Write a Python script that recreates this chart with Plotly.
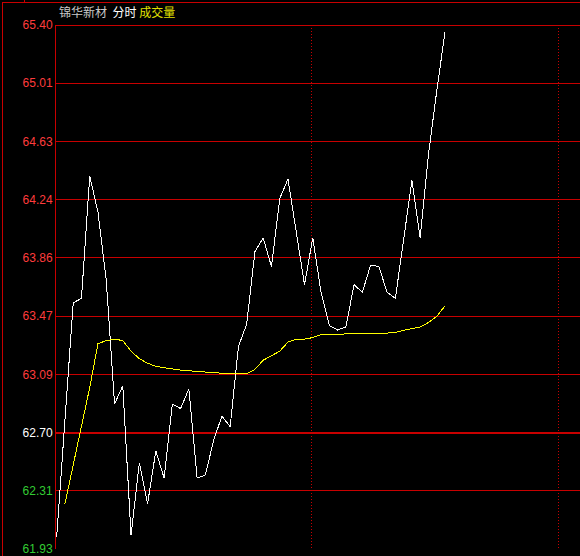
import numpy as np
import plotly.graph_objects as go

# ---- data ----
minute_idx = list(range(48))
price = [62.01, 62.79, 63.56, 63.59, 64.40, 64.16, 63.71, 62.89, 63.01, 62.02,
         62.50, 62.23, 62.58, 62.40, 62.89, 62.86, 62.99, 62.40, 62.42, 62.65,
         62.81, 62.74, 63.27, 63.42, 63.90, 63.99, 63.80, 64.25, 64.38, 64.03,
         63.68, 63.99, 63.63, 63.41, 63.38, 63.40, 63.68, 63.63, 63.81, 63.80,
         63.63, 63.59, 63.98, 64.37, 63.99, 64.54, 64.96, 65.35]
avg_idx = list(range(1, 48))
avg_price = [62.23, 62.49, 62.73, 63.00, 63.29, 63.31, 63.32, 63.31, 63.24,
             63.19, 63.16, 63.14, 63.13, 63.12, 63.115, 63.11, 63.105, 63.10, 63.10,
             63.095, 63.09, 63.09, 63.09, 63.12, 63.18, 63.21, 63.24, 63.30, 63.32,
             63.32, 63.33, 63.35, 63.35, 63.35, 63.355, 63.36, 63.36, 63.36, 63.36,
             63.36, 63.365, 63.38, 63.39, 63.40, 63.43, 63.47, 63.54]
tick_labels = ["61.93", "62.31", "62.70", "63.09", "63.47",
               "63.86", "64.24", "64.63", "65.01", "65.40"]
prev_close = 62.70
session_marks = [30.82, 60.69]
title_name = "锦华新材"
title_mode = "分时"
title_vol = "成交量"

# ---- styling ----
RED_GRID = "#c80000"
UP = "#ff3c3c"
DOWN = "#33cc33"
FLAT = "#ffffff"

ymin, ymax = float(tick_labels[0]), float(tick_labels[-1])
tickvals = list(np.linspace(ymin, ymax, len(tick_labels)))
ticktext = []
for t in tick_labels:
    v = float(t)
    c = UP if v > prev_close + 1e-9 else (DOWN if v < prev_close - 1e-9 else FLAT)
    ticktext.append(f'<span style="color:{c}">{t}</span>')

fig = go.Figure()

# horizontal price grid lines (the previous-close one is thicker)
for tv, t in zip(tickvals, tick_labels):
    w = 2 if abs(float(t) - prev_close) < 1e-9 else 1
    fig.add_shape(type="line", xref="paper", yref="y", x0=0, x1=1,
                  y0=tv, y1=tv, line=dict(color=RED_GRID, width=w),
                  layer="below")

fig.add_trace(go.Scatter(x=minute_idx, y=price, mode="lines",
                         line=dict(color="#ffffff", width=1), hoverinfo="skip"))
fig.add_trace(go.Scatter(x=avg_idx, y=avg_price, mode="lines",
                         line=dict(color="#ffff00", width=1), hoverinfo="skip"))

# outer frame lines
fig.add_shape(type="line", xref="paper", yref="paper", x0=-0.103, x1=1,
              y0=1.042, y1=1.042, line=dict(color=RED_GRID, width=1))
fig.add_shape(type="line", xref="paper", yref="paper", x0=-0.103, x1=-0.103,
              y0=-0.02, y1=1.042, line=dict(color=RED_GRID, width=1))
fig.add_shape(type="line", xref="paper", yref="paper", x0=-0.0592, x1=-0.0592,
              y0=1.042, y1=1.05, line=dict(color=RED_GRID, width=1))

fig.add_annotation(
    xref="paper", yref="paper", x=0.001, y=1.0, xanchor="left", yanchor="bottom",
    yshift=3, showarrow=False,
    text=(f'<span style="color:#c8c8c8">{title_name}</span>&nbsp;&nbsp;'
          f'<span style="color:#ffffff">{title_mode}</span>&nbsp;'
          f'<span style="color:#e0e000">{title_vol}</span>'),
    font=dict(family="Noto Sans CJK SC", size=12),
)

fig.update_layout(
    width=580, height=556,
    margin=dict(l=56, r=0, t=25, b=7),
    paper_bgcolor="#000000", plot_bgcolor="#000000",
    showlegend=False, hovermode=False,
    xaxis=dict(range=[-0.085, 63.35], showticklabels=False, ticks="",
               tickvals=session_marks, showgrid=True, gridcolor=RED_GRID,
               gridwidth=1, griddash="1px,2px", zeroline=False, showline=False),
    yaxis=dict(range=[ymin, ymax], tickvals=tickvals, ticktext=ticktext,
               ticks="", showgrid=False, ticklabeloverflow="allow",
               zeroline=False, showline=True, linecolor=RED_GRID, linewidth=1,
               tickfont=dict(family="Liberation Sans", size=12, color=UP)),
)

fig.write_html("out.html", config={"displayModeBar": False, "staticPlot": True})

# remove the default page margin; render lines pixel-crisp like the terminal chart
with open("out.html", "r", encoding="utf-8") as f:
    html = f.read()
html = html.replace("<body>", '<body style="margin:0;padding:0;background:#000000;">', 1)
html = html.replace(
    "</head>",
    "<style>.shapelayer path, .scatterlayer path.js-line {shape-rendering: crispEdges;}</style></head>",
    1)
with open("out.html", "w", encoding="utf-8") as f:
    f.write(html)
